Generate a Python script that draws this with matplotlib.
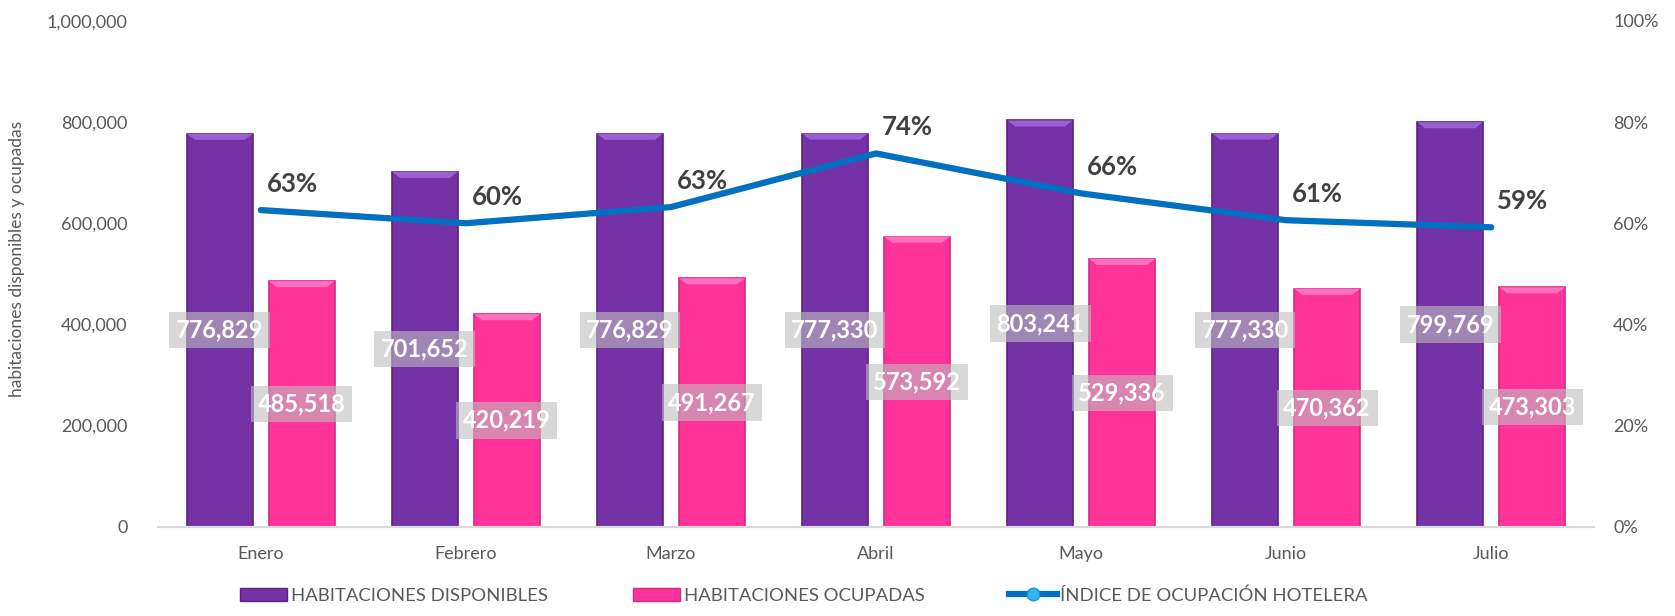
import matplotlib
matplotlib.use("Agg")
import matplotlib.pyplot as plt
from matplotlib.ticker import FuncFormatter, PercentFormatter
from matplotlib.patches import Patch, Polygon
from matplotlib.lines import Line2D
import numpy as np

plt.rcParams['font.family'] = ['Lato', 'DejaVu Sans']

# data
meses = ['Enero', 'Febrero', 'Marzo', 'Abril', 'Mayo', 'Junio', 'Julio']
disponibles = [776829, 701652, 776829, 777330, 803241, 777330, 799769]
ocupadas = [485518, 420219, 491267, 573592, 529336, 470362, 473303]
ocupacion = [0.626, 0.600, 0.632, 0.738, 0.659, 0.606, 0.592]

purple = '#7432a6'
pink = '#FF3399'
blue = '#0070C0'
grey_txt = '#595959'

fig = plt.figure(figsize=(16.75, 6.16), dpi=100)
ax = fig.add_axes([0.0945, 0.145, 0.857, 0.821])
ax2 = ax.twinx()

x = np.arange(len(meses))
w = 0.32
b1 = ax.bar(x - 0.2, disponibles, w, color=purple, edgecolor='#5a2384', linewidth=1.2, zorder=2)
b2 = ax.bar(x + 0.2, ocupadas, w, color=pink, edgecolor='#d42a80', linewidth=1.2, zorder=2)

# bevel highlight on top of each bar
def bevel(bars, light):
    for p in bars:
        x0, y0 = p.get_x(), p.get_height()
        bw = p.get_width()
        dy = 12000
        dx = bw * 0.12
        poly = Polygon([[x0, y0], [x0 + bw, y0], [x0 + bw - dx, y0 - dy], [x0 + dx, y0 - dy]],
                       closed=True, facecolor=light, edgecolor='none', zorder=3)
        ax.add_patch(poly)

bevel(b1, '#9a5fd0')
bevel(b2, '#ff70c0')

# value labels inside bars
for bars in (b1, b2):
    for p in bars:
        v = p.get_height()
        ax.text(p.get_x() + p.get_width() / 2, v / 2, f'{v:,.0f}', ha='center', va='center',
                color='white', fontsize=17, fontweight='bold', zorder=5,
                bbox=dict(boxstyle='square,pad=0.28', facecolor='#bfbfbf', alpha=0.6, edgecolor='none'))

ax.set_ylim(0, 1000000)
ax.set_xlim(-0.5, len(meses) - 0.5)
ax.set_yticks(np.arange(0, 1000001, 200000))
ax.yaxis.set_major_formatter(FuncFormatter(lambda v, p: f'{v:,.0f}'))
ax.set_xticks(x)
ax.set_xticklabels(meses)
ax.set_ylabel('habitaciones disponibles y ocupadas', fontsize=12.5, color=grey_txt)
ax.yaxis.set_label_coords(-0.093, 0.53)

ax2.plot(x, ocupacion, color=blue, linewidth=4.5, solid_capstyle='round', zorder=4)
ax2.set_ylim(0, 1)
ax2.set_yticks(np.arange(0, 1.01, 0.2))
ax2.yaxis.set_major_formatter(PercentFormatter(1, decimals=0))
for xi, v in zip(x, ocupacion):
    ax2.annotate(f'{v:.0%}', (xi, v), xytext=(4, 19), textcoords='offset points',
                 ha='left', va='center', fontsize=18.5, fontweight='bold', color='#404040')

for a in (ax, ax2):
    for s in ('top', 'left', 'right'):
        a.spines[s].set_visible(False)
    a.spines['bottom'].set_color('#d9d9d9')
    a.spines['bottom'].set_linewidth(1.5)
    a.tick_params(length=0, labelsize=13, colors=grey_txt)
ax.tick_params(axis='y', pad=22)
ax.tick_params(axis='x', pad=14)
ax2.tick_params(axis='y', pad=14)

handles = [
    Patch(facecolor=purple, edgecolor='#5a2384', label='HABITACIONES DISPONIBLES'),
    Patch(facecolor=pink, edgecolor='#d42a80', label='HABITACIONES OCUPADAS'),
    Line2D([0], [0], color=blue, linewidth=4.5, marker='o', markersize=9,
           markerfacecolor='#33b5f0', markeredgecolor='#1a8fd0', label='ÍNDICE DE OCUPACIÓN HOTELERA'),
]
fig.legend(handles=handles, loc='lower center', bbox_to_anchor=(0.48, -0.007), ncol=3, frameon=False,
           fontsize=13.3, labelcolor=grey_txt, handlelength=2.55, handleheight=0.7,
           handletextpad=0.2, columnspacing=4.6)

fig.savefig('out.png', dpi=100)
